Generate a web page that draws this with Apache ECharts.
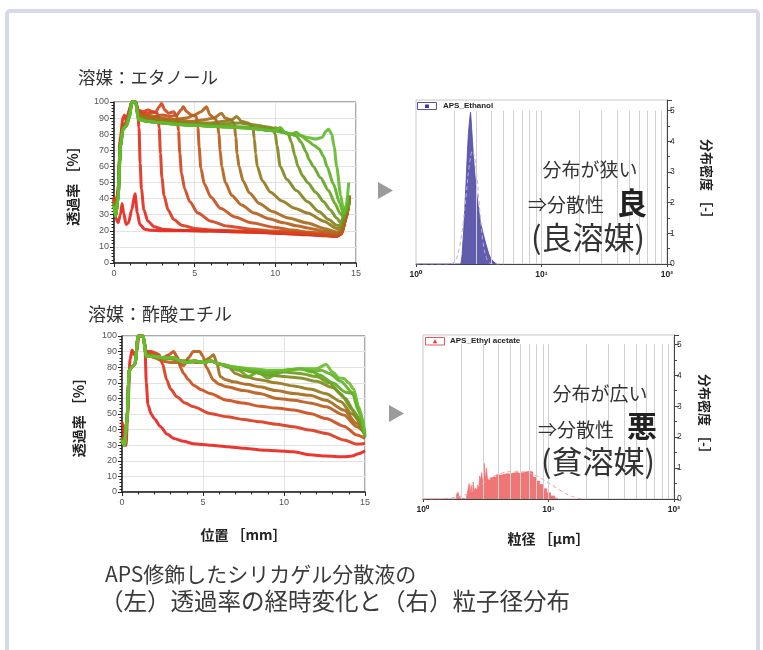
<!DOCTYPE html>
<html><head><meta charset="utf-8">
<script src="https://cdn.jsdelivr.net/npm/echarts@6/dist/echarts.min.js"></script>
<style>html,body{margin:0;padding:0;background:#fff}#c{width:763px;height:650px}</style>
</head><body><div id="c"></div>
<script>
// ---------- Transmittance profiles, solvent: ethanol (x: position mm, y: %) ----------
const e1 = [[0,41],[0.1,28],[0.25,25],[0.4,30],[0.5,37],[0.6,31],[0.75,24],[0.9,25],[1.1,33],[1.3,43],[1.45,31],[1.6,24],[1.9,21],[2.3,20.3],[3,20],[4,20],[5,20],[6,19.8],[7,19.6],[8,19.3],[9,19],[10,18.5],[11,18],[12,17.5],[13,17],[13.8,16.5],[14.1,18],[14.4,28],[14.6,42]];
const e2 = [[0,40],[0.1,30],[0.25,45],[0.4,78],[0.55,90],[0.65,92],[0.8,86],[1.0,96],[1.15,100],[1.3,100],[1.45,96],[1.55,84],[1.62,62],[1.7,46],[1.85,33],[2.1,26],[2.5,22.5],[3,21],[4,20.3],[5,20],[6,19.8],[8,19.4],[10,18.7],[12,17.7],[13,17.2],[13.8,16.6],[14.1,18.2],[14.4,28],[14.6,41]];
const e3 = [[0,40],[0.1,30],[0.25,45],[0.4,76],[0.55,86],[0.75,87],[0.95,95],[1.1,100],[1.35,100],[1.5,95],[1.8,94],[2.1,95],[2.4,94],[2.7,93],[2.8,84],[2.88,68],[2.97,53],[3.1,42],[3.35,33],[3.7,27],[4.2,23.5],[5,21.5],[6,20.5],[8,19.8],[10,19],[12,18],[13,17.3],[13.8,16.6],[14.1,18.3],[14.4,28],[14.6,40]];
const e4 = [[0,39],[0.1,30],[0.25,44],[0.4,75],[0.55,85],[0.75,86],[0.95,95],[1.1,100],[1.35,100],[1.5,94],[1.8,93],[2.2,93],[2.6,94],[2.8,97],[2.95,99],[3.15,95],[3.4,93],[3.7,94],[3.9,91],[4.0,82],[4.08,68],[4.18,56],[4.38,46],[4.7,38],[5.2,31],[6,26],[7,23],[8.5,21],[10,19.8],[12,18.3],[13,17.5],[13.8,16.8],[14.1,18.5],[14.4,28],[14.6,40]];
const e5 = [[0,39],[0.1,30],[0.25,44],[0.4,75],[0.55,85],[0.75,86],[0.95,95],[1.1,100],[1.35,100],[1.5,93],[1.9,92],[2.5,91],[3,92],[3.5,91],[3.9,92],[4.15,95],[4.3,97],[4.5,94],[4.8,92],[5.1,91],[5.2,84],[5.28,72],[5.38,59],[5.6,49],[6,41],[6.6,34],[7.5,28.5],[8.5,25],[10,22],[11,20.5],[12,19.3],[13,18.3],[13.8,17.2],[14.1,18.6],[14.4,29],[14.6,40]];
const e6 = [[0,38],[0.1,30],[0.25,43],[0.4,74],[0.55,84],[0.75,86],[0.95,94],[1.1,100],[1.35,100],[1.5,92],[2,91],[2.5,90],[3,90],[3.5,89],[4,89.5],[4.5,90],[5,92],[5.4,94],[5.73,97],[5.95,92],[6.2,90],[6.4,88],[6.5,80],[6.58,70],[6.68,60],[6.9,50],[7.3,42],[7.9,36],[8.7,31],[9.6,27.5],[10.5,25],[11.3,23.2],[12,21.8],[13,19.8],[13.8,18],[14.1,19],[14.4,29],[14.6,40]];
const e7 = [[0,38],[0.1,30],[0.25,42],[0.4,74],[0.55,84],[0.75,86],[0.95,93],[1.1,100],[1.35,100],[1.5,92],[2,90],[3,89],[4,88.5],[5,88],[5.6,89],[6.2,90],[6.66,93],[6.9,90],[7.2,89],[7.45,87],[7.55,78],[7.63,68],[7.75,60],[8.0,51],[8.4,43.5],[9.0,37],[9.8,32],[10.8,28],[12,24.8],[13,21.5],[13.8,19.3],[14.1,20],[14.4,29],[14.6,40]];
const e8 = [[0,37],[0.1,29],[0.25,41],[0.4,73],[0.55,84],[0.75,85],[0.95,92],[1.1,100],[1.35,100],[1.5,91],[2,89],[3,88],[4,87.5],[5,87],[6,87],[6.8,88],[7.3,89],[7.6,91],[7.9,88],[8.3,87],[8.6,85],[8.7,77],[8.78,68],[8.88,60],[9.2,51],[9.7,44],[10.4,38.5],[11.2,34],[12,31],[13,26],[13.8,21.5],[14.1,21.5],[14.4,30],[14.6,39]];
const e9 = [[0,37],[0.1,29],[0.25,40],[0.4,72],[0.55,83],[0.75,85],[0.95,91],[1.1,100],[1.35,100],[1.5,90],[2,88],[3,87],[4,86.5],[5,86],[6,86],[7,86.5],[7.8,87],[8.5,86],[9.2,85],[9.8,84],[10.0,80],[10.1,73],[10.3,60],[10.7,52],[11.3,45],[12,38],[12.7,32],[13.3,27],[13.8,23.5],[14.1,23],[14.4,31],[14.6,39]];
const e10 = [[0,36],[0.1,29],[0.25,40],[0.4,72],[0.55,83],[0.75,85],[0.95,90],[1.1,100],[1.35,100],[1.5,90],[2,88],[3,87],[4,86],[5,85.5],[6,85.5],[7,85],[8,84.5],[9,84],[9.7,83],[10.0,84],[10.4,82],[10.8,80],[11.0,75],[11.2,67],[11.4,60],[11.7,54],[12,50],[12.5,44],[13,38],[13.4,33],[13.8,28],[14.05,25],[14.3,31],[14.55,38]];
const e11 = [[0,36],[0.1,29],[0.25,40],[0.4,72],[0.55,83],[0.75,85],[0.95,90],[1.1,100],[1.35,100],[1.5,90],[2,88],[3,87],[4,86],[5,85.5],[6,85],[7,84.5],[8,84],[9,83],[10,82],[10.5,81],[11.0,80],[11.3,79],[11.6,75],[11.9,69],[12.1,64],[12.35,60],[12.8,53],[13.3,45],[13.7,37],[14.0,31],[14.2,29],[14.4,33],[14.55,37]];
const e12 = [[0,35],[0.1,29],[0.25,40],[0.4,72],[0.55,83],[0.75,85],[0.95,90],[1.1,100],[1.35,100],[1.5,90],[2,88],[3,87],[3.5,86.5],[4,86],[5,85.5],[6,85],[7,84.5],[8,84],[8.7,83.5],[9.4,82.5],[10,82],[10.3,84],[10.6,81],[11,80],[11.3,81],[11.6,79],[12,76],[12.4,73],[12.7,71],[13.0,66],[13.2,60],[13.6,49],[14.0,37],[14.2,31],[14.4,35],[14.55,42]];
const e13 = [[0,35],[0.1,29],[0.25,40],[0.4,72],[0.55,83],[0.75,85],[0.95,90],[1.1,100],[1.35,100],[1.5,89],[2,88],[3,87],[3.5,86.5],[4,86],[5,85.5],[6,85],[7,84.5],[8,84],[8.7,83.5],[9.4,82.5],[10,82],[10.3,84],[10.6,81],[11,80],[11.3,81],[11.6,79],[12,78],[12.5,77],[12.9,78],[13.15,82],[13.3,83],[13.5,80],[13.65,72],[13.8,60],[14.05,42],[14.25,31],[14.4,36],[14.55,50]];
const ethanolCurves = [e1,e2,e3,e4,e5,e6,e7,e8,e9,e10,e11,e12,e13];

// ---------- Transmittance profiles, solvent: ethyl acetate ----------
const a1 = [[0,45],[0.08,42],[0.15,31],[0.25,30],[0.35,50],[0.5,85],[0.62,91],[0.75,88],[0.9,90],[1.05,100],[1.3,100],[1.42,92],[1.5,70],[1.6,56],[1.8,50],[2.0,47],[2.36,42],[2.8,37],[3.2,34.3],[3.8,32.5],[4.4,31],[5.5,30],[6.5,29],[7.5,28],[8.5,27],[9.5,26.5],[10.6,25.8],[11.6,23.8],[12.6,23],[13.7,22.6],[14.2,23],[14.6,24.5],[15,26.4]];
const a2 = [[0,35],[0.15,30],[0.3,45],[0.45,78],[0.6,80],[0.8,82],[1.0,100],[1.3,100],[1.5,90],[1.8,90],[2.1,89],[2.3,88],[2.5,82],[2.77,71.6],[3.0,66],[3.39,61],[3.9,57],[4.42,54.6],[5.44,50.3],[6.47,48.2],[7.5,46.5],[8.5,45],[9.5,43.5],[10.6,41.8],[11.6,39.7],[12.6,37.5],[13.7,33.3],[14.5,30.7],[15,31.1]];
const a3 = [[0,35],[0.15,30],[0.3,45],[0.45,78],[0.6,80],[0.8,82],[1.0,100],[1.3,100],[1.5,90],[2,88],[2.5,86],[2.9,88],[3.18,90],[3.45,86],[3.6,80],[3.8,76],[4.1,72],[4.42,68.4],[4.9,65.5],[5.44,63.1],[6.47,58.8],[7.5,57],[8.5,55],[9.5,53.8],[10.6,52.5],[11.6,50.3],[12.6,47.1],[13.7,42.2],[14.5,36.5],[15,34.3]];
const a4 = [[0,35],[0.15,30],[0.3,45],[0.45,78],[0.6,80],[0.8,82],[1.0,100],[1.3,100],[1.5,89],[2,86],[2.5,84],[3.0,83],[3.5,83],[3.8,81],[4.1,86],[4.4,90],[4.8,90],[5.0,87],[5.2,80],[5.65,71.6],[6.0,69],[6.47,67.4],[7.5,65],[8.5,63.1],[9.55,60],[10.6,58.8],[11.6,57.1],[12.6,54.6],[13.7,49.3],[14.5,41.8],[15,37.5]];
const a5 = [[0,34],[0.15,30],[0.3,45],[0.45,78],[0.6,80],[0.8,82],[1.0,100],[1.3,100],[1.5,88],[2,87],[2.5,86],[3.2,85],[3.6,84],[4,84],[4.5,83],[5,83],[5.4,86],[5.65,88],[5.85,83],[6.06,74],[6.4,72],[6.88,70.6],[7.7,69],[8.5,67.4],[9.5,65],[10.6,63.1],[11.6,62],[12.6,58.8],[13.7,52.5],[14.5,43.9],[15,36.5]];
const a6 = [[0,34],[0.15,30],[0.3,45],[0.45,78],[0.6,80],[0.8,82],[1.0,100],[1.3,100],[1.5,88],[2,87],[2.5,86],[3.2,86],[3.6,84],[4,84],[4.5,84],[5,83],[5.5,84],[6,82],[6.6,80],[7,76],[7.5,74],[8.5,72],[9.5,70],[10.6,68],[11.6,66],[12.6,63],[13.5,58],[14.2,50],[15,38]];
const a7 = [[0,34],[0.15,30],[0.3,45],[0.45,78],[0.6,80],[0.8,82],[1.0,100],[1.3,100],[1.5,88],[2,87],[2.5,86],[3.2,86],[3.6,84],[4,83],[4.5,84],[5,83],[5.5,84],[6,82],[7,80],[8,77],[9,75],[10,74],[11,73],[12,71],[13,67],[13.8,60],[14.4,50],[15,37]];
const a8 = [[0,33],[0.15,30],[0.3,45],[0.45,78],[0.6,80],[0.8,82],[1.0,100],[1.3,100],[1.5,87],[2,87],[2.5,86],[3.2,86],[3.6,84],[4,83],[4.5,84],[5,83],[5.5,84],[6,82],[7,80],[8,78],[9,77],[10,77],[11,76],[12,74],[12.8,70],[13.5,63],[14.2,53],[15,36]];
const a9 = [[0,33],[0.15,30],[0.3,45],[0.45,78],[0.6,80],[0.8,82],[1.0,100],[1.3,100],[1.5,87],[2,87],[2.5,86],[3.2,86],[3.6,84],[4,83],[4.5,84],[5,83],[5.5,84],[6,82],[6.6,80],[7.2,78],[7.8,74],[8.4,77],[9,73],[9.6,76],[10.2,78],[11,79],[11.6,78],[12.2,75],[13,70],[13.8,64],[14.3,63],[14.7,50],[15,35]];
const a10 = [[0,33],[0.15,30],[0.3,45],[0.45,78],[0.6,80],[0.8,82],[1.0,100],[1.3,100],[1.5,87],[2,87],[2.5,86],[3.2,86],[3.6,84],[4,83],[4.5,84],[5,83],[5.5,84],[6,82],[7,80],[8,78],[9,76],[10,78],[11,79],[11.7,77],[12.3,78],[12.8,76],[13.5,71],[14.2,64],[14.6,52],[15,36]];
const a11 = [[0,33],[0.15,30],[0.3,45],[0.45,78],[0.6,80],[0.8,82],[1.0,100],[1.3,100],[1.5,87],[2,87],[2.5,86],[3.2,86],[3.6,84],[4,83],[4.5,84],[5,83],[5.5,84],[6,82],[7,80],[8,79],[9,78],[10,78],[11,79],[12,79],[12.6,81.7],[13,77],[13.4,73],[13.7,72.7],[14.0,70],[14.3,66],[14.6,55],[15,38]];
const acetateCurves = [a1,a2,a3,a4,a5,a6,a7,a8,a9,a10,a11];

// ---------- Particle size distributions (x: µm, y: density) ----------
const ethanolHist = [[1,0],[2.28,0],[2.33,0.3],[2.4,1.1],[2.46,2.0],[2.52,2.9],[2.57,3.7],[2.62,4.3],[2.68,4.75],[2.72,4.95],[2.76,4.6],[2.82,4.0],[2.87,3.5],[2.95,2.9],[3.05,2.3],[3.15,1.8],[3.25,1.4],[3.4,1.05],[3.55,0.75],[3.7,0.5],[3.8,0.33],[3.95,0.18],[4.15,0.07],[4.3,0.02],[4.4,0]];
const ethanolFit = [[1,0],[1.8,0],[2.0,0.05],[2.15,0.3],[2.3,0.9],[2.45,1.8],[2.6,2.9],[2.72,3.5],[2.82,3.7],[2.92,3.5],[3.05,2.9],[3.2,1.9],[3.35,1.0],[3.5,0.45],[3.7,0.12],[3.9,0.02],[4.2,0],[5,0]];
const acetateHist = [[1,0],[1.85,0.15],[1.9,0.22],[1.95,0.05],[2.0,0],[2.22,0.08],[2.28,0.3],[2.33,0.5],[2.37,0.2],[2.42,0.45],[2.47,0.15],[2.51,0.55],[2.56,0.25],[2.6,0.35],[2.66,0.3],[2.72,0.45],[2.78,0.35],[2.83,0.75],[2.88,0.6],[2.93,0.85],[2.98,0.5],[3.03,0.9],[3.08,1.15],[3.14,0.6],[3.2,1.0],[3.27,0.65],[3.35,0.6],[3.45,0.68],[3.55,0.72],[3.7,0.7],[3.85,0.78],[4.0,0.77],[4.2,0.8],[4.45,0.82],[4.7,0.81],[5.0,0.84],[5.3,0.86],[5.6,0.83],[5.9,0.86],[6.3,0.88],[6.7,0.9],[7.1,0.87],[7.5,0.7],[8.0,0.58],[8.5,0.47],[9.1,0.33],[9.7,0.2],[10.4,0.1],[11.2,0.03],[11.8,0]];
const acetateFit = [[1,0],[1.4,0.01],[1.8,0.05],[2.3,0.18],[2.85,0.45],[3.4,0.66],[4.0,0.8],[4.6,0.87],[5.4,0.9],[6.2,0.88],[7.0,0.85],[7.6,0.8],[8.6,0.68],[9.9,0.53],[11.7,0.34],[13.6,0.18],[15.5,0.08],[18,0.01],[20,0]];

// ---------- Axis ticks ----------
const posTicks = [0, 5, 10, 15];
const transTicks = [0, 10, 20, 30, 40, 50, 60, 70, 80, 90, 100];
const densTicks = [0, 1, 2, 3, 4, 5];
const logGridLines = [2,3,4,5,6,7,8,9,10,20,30,40,50,60,70,80,90];
const logLabels = {1: '10⁰', 10: '10¹', 100: '10²'};

// ---------- Styles ----------
const ethanolColors = ['#e8261e','#e32f1f','#db3a1e','#d0471d','#c4531c','#b6601b','#a66c1b','#94781c','#82861e','#729620','#65a523','#5db127','#62bb2c'];
const acetateColors = ['#e8261e','#dc3a1e','#cb4e1c','#b95d1b','#a56b1b','#917a1c','#7f8b1e','#6f9b21','#64a824','#5fb228','#6abd2e'];
const JP = '"Noto Sans CJK JP","Noto Sans CJK SC",sans-serif';
const NUM = '"Liberation Sans","DejaVu Sans",sans-serif';

function lineXAxis(gi, name) {
  return {
    gridIndex: gi, type: 'value', min: posTicks[0], max: posTicks[posTicks.length-1], interval: 5,
    name: name || '', nameLocation: 'middle', nameGap: 36,
    nameTextStyle: {fontFamily: JP, fontWeight: 'bold', fontSize: 14, color: '#222'},
    axisLine: {onZero: false, lineStyle: {color: '#222', width: 1.5}},
    axisTick: {length: 4, lineStyle: {color: '#222'}},
    minorTick: {show: true, splitNumber: 5, length: 2.5, lineStyle: {color: '#222'}},
    axisLabel: {fontFamily: NUM, fontSize: 9, color: '#555', margin: 6},
    splitLine: {show: true, lineStyle: {color: '#e2e2e2'}}
  };
}
function lineYAxis(gi, gap) {
  return {
    gridIndex: gi, type: 'value', min: transTicks[0], max: transTicks[transTicks.length-1], interval: 10,
    name: '透過率 ［%］', nameLocation: 'middle', nameGap: gap, nameRotate: 90,
    nameTextStyle: {fontFamily: JP, fontWeight: 'bold', fontSize: 14, color: '#222'},
    axisLine: {show: true, lineStyle: {color: '#222', width: 1.5}},
    axisTick: {length: 4, lineStyle: {color: '#222'}},
    minorTick: {show: true, splitNumber: 5, length: 2.5, lineStyle: {color: '#222'}},
    axisLabel: {fontFamily: NUM, fontSize: 9, color: '#555', margin: 5},
    splitLine: {show: true, lineStyle: {color: '#e2e2e2'}}
  };
}
function logXAxis(gi, name) {
  return {
    gridIndex: gi, type: 'log', logBase: 10, min: 1, max: 100,
    name: name || '', nameLocation: 'middle', nameGap: 33,
    nameTextStyle: {fontFamily: JP, fontWeight: 'bold', fontSize: 14, color: '#222'},
    axisLine: {onZero: false, lineStyle: {color: '#444', width: 1}},
    axisTick: {length: 3, lineStyle: {color: '#444'}},
    axisLabel: {fontFamily: NUM, fontSize: 8.5, fontWeight: 'bold', color: '#222', margin: 6,
      showMinLabel: true, showMaxLabel: true, formatter: v => logLabels[Math.round(v)] || ''},
    splitLine: {show: false}
  };
}
function densYAxis(gi, max, gap) {
  return {
    gridIndex: gi, type: 'value', position: 'right', min: densTicks[0], max: max, interval: 1,
    name: '分布密度 ［-］', nameLocation: 'middle', nameGap: gap, nameRotate: -90,
    nameTextStyle: {fontFamily: JP, fontWeight: 'bold', fontSize: 13, color: '#222'},
    axisLine: {show: true, onZero: false, lineStyle: {color: '#444', width: 1}},
    axisTick: {show: true, length: 5, lineStyle: {color: '#444'}},
    minorTick: {show: true, splitNumber: 2, length: 3, lineStyle: {color: '#444'}},
    axisLabel: {fontFamily: NUM, fontSize: 8.5, color: '#333', margin: 3,
      formatter: v => (densTicks.indexOf(v) >= 0 ? String(v) : '')},
    splitLine: {show: false}
  };
}

const series = [];
ethanolCurves.forEach((d, i) => series.push({
  type: 'line', xAxisIndex: 0, yAxisIndex: 0, data: d, showSymbol: false, symbol: 'none',
  smooth: 0.25, smoothMonotone: 'x', clip: true, z: 2 + i,
  lineStyle: {color: ethanolColors[i], width: 3, opacity: 0.92}
}));
acetateCurves.forEach((d, i) => series.push({
  type: 'line', xAxisIndex: 1, yAxisIndex: 1, data: d, showSymbol: false, symbol: 'none',
  smooth: 0.25, smoothMonotone: 'x', clip: true, z: 2 + i,
  lineStyle: {color: acetateColors[i], width: 3, opacity: 0.92}
}));
[[2, 5], [3, 5]].forEach(([ai, top]) => series.push({
  type: 'line', xAxisIndex: ai, yAxisIndex: ai, data: [], z: 1, silent: true,
  markLine: {silent: true, symbol: ['none', 'none'], label: {show: false}, animation: false,
    lineStyle: {color: '#d0d0d0', width: 1, type: 'solid'},
    data: logGridLines.map(v => [{coord: [v, 0]}, {coord: [v, top]}])}
}));
series.push({type: 'line', xAxisIndex: 2, yAxisIndex: 2, data: ethanolHist, symbol: 'none', z: 3,
  lineStyle: {color: '#4c469f', width: 0.8}, areaStyle: {color: '#5953aa', opacity: 0.95}});
series.push({type: 'line', xAxisIndex: 2, yAxisIndex: 2, data: ethanolFit, symbol: 'none', smooth: 0.3, z: 4,
  lineStyle: {color: '#b3b0dc', width: 1, type: [4, 3]}});
series.push({type: 'line', xAxisIndex: 3, yAxisIndex: 3, data: acetateHist, symbol: 'none', step: 'end', z: 3,
  lineStyle: {color: '#ee6a6a', width: 0.6}, areaStyle: {color: '#ef6f6f', opacity: 0.95}});
series.push({type: 'line', xAxisIndex: 3, yAxisIndex: 3, data: acetateFit, symbol: 'none', smooth: 0.3, z: 4,
  lineStyle: {color: '#f2a0a0', width: 1, type: [4, 3]}});

function txt(text, x, y, size, opts) {
  return Object.assign({type: 'text', silent: true, z: 100, style: Object.assign({
    text: text, x: x, y: y, fontFamily: JP, fontSize: size, fill: '#333',
    textAlign: 'left', textVerticalAlign: 'middle'}, opts || {})});
}

const graphic = [
  {type: 'rect', silent: true, z: 0, shape: {x: 7, y: 11, width: 751, height: 660, r: 3},
    style: {fill: 'none', stroke: '#d8d8ec', lineWidth: 4}},
  txt('溶媒：エタノール', 78, 77, 17.5),
  txt('溶媒：酢酸エチル', 88, 314, 18),
  {type: 'polygon', silent: true, shape: {points: [[378, 182], [393, 190.5], [378, 199]]}, style: {fill: '#9b9b9b'}},
  {type: 'polygon', silent: true, shape: {points: [[389, 405], [404, 413.5], [389, 422]]}, style: {fill: '#9b9b9b'}},
  {type: 'rect', silent: true, z: 50, shape: {x: 417.5, y: 102.5, width: 19, height: 7}, style: {fill: '#fff', stroke: '#5953aa', lineWidth: 1}},
  {type: 'rect', silent: true, z: 51, shape: {x: 425, y: 104.5, width: 4, height: 3.5}, style: {fill: '#3f3a98'}},
  txt('APS_Ethanol', 443, 106, 8, {fontFamily: NUM, fontWeight: 'bold', fill: '#222'}),
  {type: 'rect', silent: true, z: 50, shape: {x: 425.5, y: 337.5, width: 19, height: 7.5}, style: {fill: '#fff', stroke: '#e8585a', lineWidth: 1}},
  {type: 'polygon', silent: true, z: 51, shape: {points: [[435, 339.3], [437.3, 343.2], [432.7, 343.2]]}, style: {fill: '#e03a3a'}},
  txt('APS_Ethyl acetate', 450, 341, 8, {fontFamily: NUM, fontWeight: 'bold', fill: '#222'}),
  txt('分布が狭い', 590, 170, 19, {textAlign: 'center'}),
  txt('⇒分散性', 528, 205, 19),
  txt('良', 632, 203, 30, {textAlign: 'center', fontWeight: 'bold', fill: '#222'}),
  txt('(良溶媒)', 588, 237, 31, {textAlign: 'center'}),
  txt('分布が広い', 600, 394, 19, {textAlign: 'center'}),
  txt('⇒分散性', 538, 430, 19),
  txt('悪', 642, 426, 30, {textAlign: 'center', fontWeight: 'bold', fill: '#222'}),
  txt('(貧溶媒)', 598, 461, 31, {textAlign: 'center'}),
  txt('APS修飾したシリカゲル分散液の', 105, 574, 21, {fill: '#3a3a3a'}),
  txt('（左）透過率の経時変化と（右）粒子径分布', 100, 601, 23.5, {fill: '#3a3a3a'})
];

const option = {
  animation: false,
  backgroundColor: '#fff',
  grid: [
    {left: 114, top: 102, width: 242, height: 161, show: true, borderColor: '#555', borderWidth: 1, backgroundColor: '#fff'},
    {left: 122, top: 336, width: 243, height: 156, show: true, borderColor: '#555', borderWidth: 1, backgroundColor: '#fff'},
    {left: 416, top: 100, width: 251, height: 164, show: true, borderColor: '#c8c8c8', borderWidth: 1, backgroundColor: '#fff'},
    {left: 423, top: 335, width: 251, height: 164, show: true, borderColor: '#c8c8c8', borderWidth: 1, backgroundColor: '#fff'}
  ],
  xAxis: [lineXAxis(0), lineXAxis(1, '位置 ［mm］'), logXAxis(2), logXAxis(3, '粒径 ［µm］')],
  yAxis: [lineYAxis(0, 34), lineYAxis(1, 36), densYAxis(2, 5.35, 33), densYAxis(3, 5.3, 24)],
  series: series,
  graphic: graphic
};
const chart = echarts.init(document.getElementById('c'), null, {renderer: 'canvas'});
chart.setOption(option);
</script></body></html>
